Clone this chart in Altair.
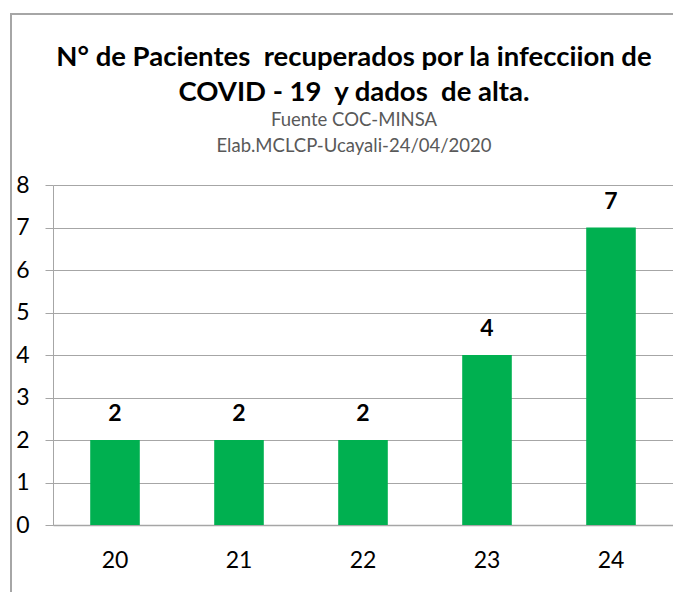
import altair as alt
import pandas as pd

dias = ["20", "21", "22", "23", "24"]
pacientes = [2, 2, 2, 4, 7]

titulo = ["N° de Pacientes \u00a0recuperados por la infecciion de", "COVID - 19 \u00a0y dados \u00a0de alta."]
subtitulo = ["Fuente COC-MINSA", "Elab.MCLCP-Ucayali-24/04/2020"]

df = pd.DataFrame({"dia": dias, "n": pacientes})

FONT = "Lato"

base = alt.Chart(df).encode(
    x=alt.X("dia:N", sort=dias, title=None,
            scale=alt.Scale(paddingInner=0.6, paddingOuter=0.3),
            axis=alt.Axis(labelAngle=0, labelFontSize=23, labelFont=FONT, labelColor="#000000",
                          labelPadding=24, ticks=False, domainColor="#A6A6A6", domainWidth=1.5)),
    y=alt.Y("n:Q", title=None,
            scale=alt.Scale(domain=[0, 8]),
            axis=alt.Axis(values=list(range(9)), labelFontSize=23, labelFont=FONT, labelColor="#000000",
                          labelPadding=16, tickSize=8, tickColor="#A6A6A6", domainColor="#A6A6A6",
                          gridColor="#A6A6A6", gridWidth=1.2)),
)

bars = base.mark_bar(color="#00B050")
labels = base.mark_text(dy=-26, fontSize=23, fontWeight="bold", font=FONT, color="#000000").encode(
    text="n:Q")

frame_left = alt.Chart(df).mark_rule(color="#A6A6A6", strokeWidth=1.5).encode(
    x=alt.value(-42), y=alt.value(-172), y2=alt.value(420))
frame_top = alt.Chart(df).mark_rule(color="#A6A6A6", strokeWidth=1.5).encode(
    x=alt.value(-42), x2=alt.value(640), y=alt.value(-171))

chart = alt.layer(bars, labels, frame_left, frame_top).properties(
    width=620, height=340,
    autosize=alt.AutoSizeParams(type="none"),
    padding={"left": 45, "top": 177, "right": 0, "bottom": 67},
    title=alt.Title(
        text=titulo, subtitle=subtitulo,
        font=FONT, fontSize=27.5, fontWeight="bold", color="#000000", lineHeight=35,
        subtitleFont=FONT, subtitleFontSize=18.5, subtitleColor="#595959", subtitleLineHeight=26,
        subtitlePadding=4, anchor="middle", offset=-143, dx=-9,
    ),
).configure_view(stroke=None)

chart.save("out.html", embed_options={"renderer": "svg", "actions": False})
